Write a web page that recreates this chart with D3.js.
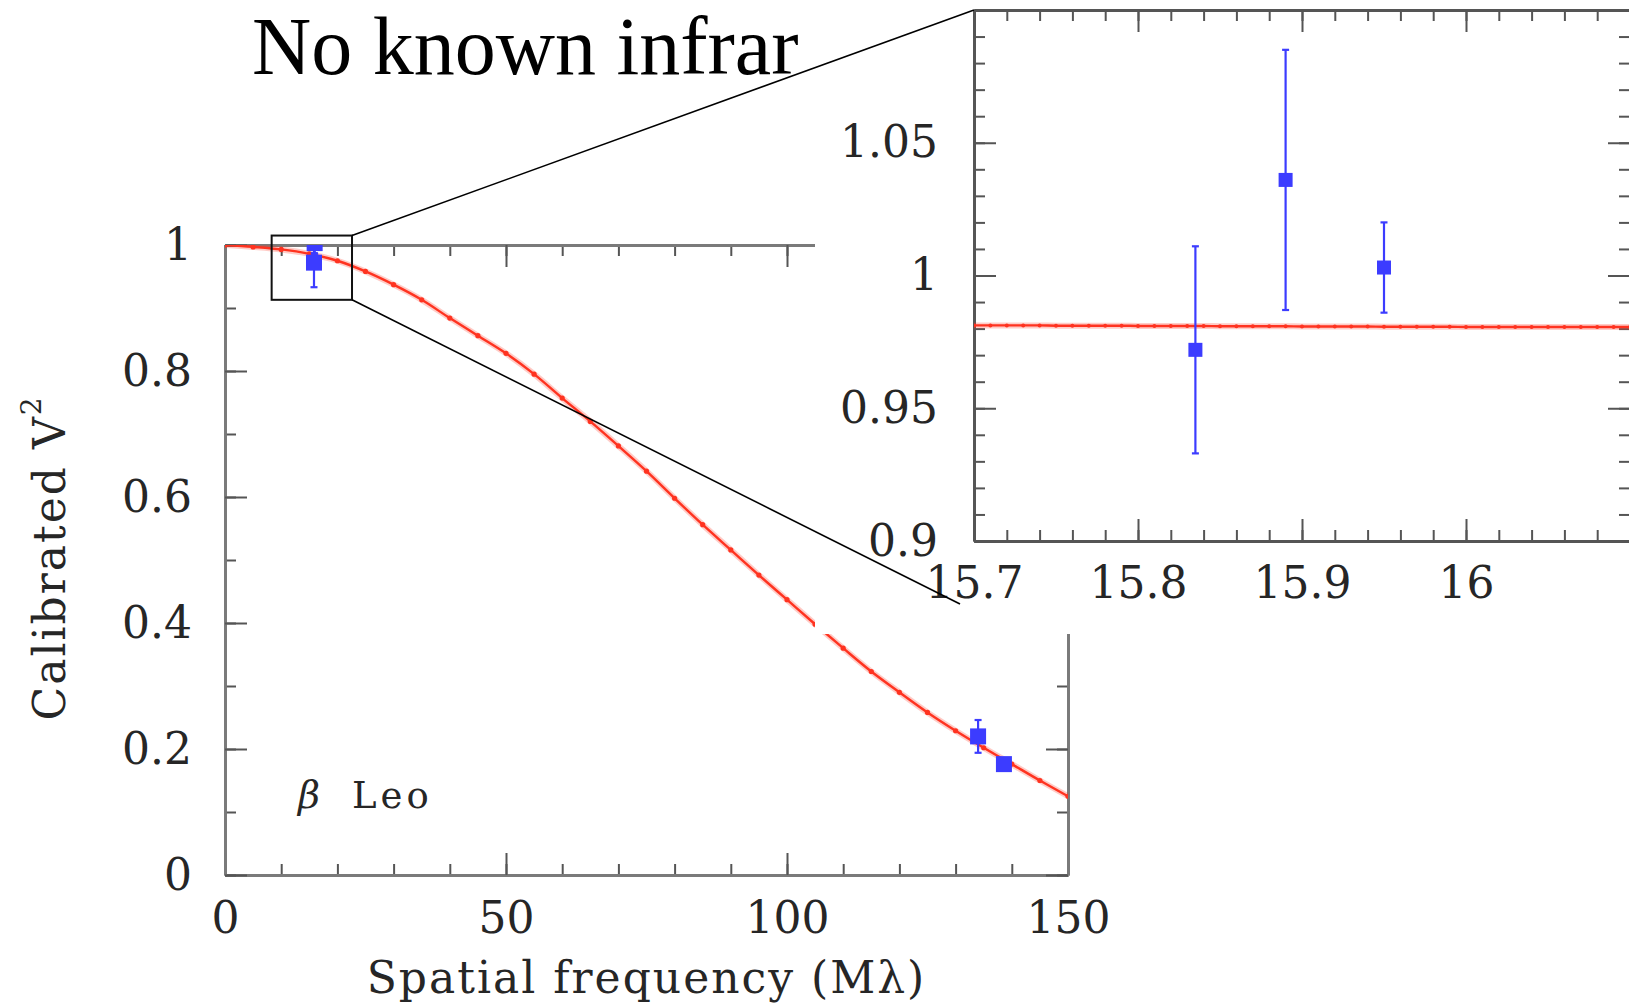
<!DOCTYPE html>
<html>
<head>
<meta charset="utf-8">
<script src="https://cdn.jsdelivr.net/npm/d3@7"></script>
<style>
  body { margin: 0; background: #fff; }
  svg { display: block; }
  .tick text { font-family: "DejaVu Serif", serif; font-size: 44px; fill: #262626; }
</style>
</head>
<body>
<div id="chart"></div>
<script>
// uniform disk model, every 5 Mlambda
var modelFreq = [0, 5, 10, 15, 20, 25, 30, 35, 40, 45, 50, 55, 60, 65, 70, 75,
    80, 85, 90, 95, 100, 105, 110, 115, 120, 125, 130, 135, 140, 145, 150];
var modelV2 = [1.000, 0.997, 0.993, 0.986, 0.975, 0.958, 0.937, 0.913, 0.884, 0.856,
    0.828, 0.795, 0.757, 0.720, 0.681, 0.641, 0.598, 0.556, 0.516, 0.476,
    0.437, 0.398, 0.360, 0.323, 0.290, 0.258, 0.229, 0.202, 0.176, 0.150, 0.125];

// measured points (the first three are the ones blown up in the inset)
var obsFreq = [15.835, 15.890, 15.950, 134.0, 138.6];
var obsV2 = [0.972, 1.036, 1.003, 0.220, 0.176];
var obsErr = [0.039, 0.049, 0.017, 0.026, 0.008];

// model across the zoomed window
var insetFreq = [15.70, 15.71, 15.72, 15.73, 15.74, 15.75, 15.76, 15.77, 15.78, 15.79,
    15.80, 15.81, 15.82, 15.83, 15.84, 15.85, 15.86, 15.87, 15.88, 15.89,
    15.90, 15.91, 15.92, 15.93, 15.94, 15.95, 15.96, 15.97, 15.98, 15.99,
    16.00, 16.01, 16.02, 16.03, 16.04, 16.05, 16.06, 16.07, 16.08, 16.09, 16.10];
var insetV2 = [0.9812, 0.9812, 0.9812, 0.9812, 0.9812, 0.9811, 0.9811, 0.9811, 0.9811, 0.9811,
    0.9810, 0.9810, 0.9810, 0.9810, 0.9810, 0.9809, 0.9809, 0.9809, 0.9809, 0.9809,
    0.9808, 0.9808, 0.9808, 0.9808, 0.9808, 0.9807, 0.9807, 0.9807, 0.9807, 0.9807,
    0.9806, 0.9806, 0.9806, 0.9806, 0.9806, 0.9806, 0.9806, 0.9806, 0.9806, 0.9806, 0.9806];

// tick labels
var xTicksMain = [0, 50, 100, 150];
var yTicksMain = [0, 0.2, 0.4, 0.6, 0.8, 1];
var xTicksInset = [15.7, 15.8, 15.9, 16];
var yTicksInset = [0.9, 0.95, 1, 1.05];

// the little box marking the zoomed region, in data units
var zoomBoxX = [8.3, 22.6];
var zoomBoxY = [0.913, 1.015];

var headline = "No known infrar";
var starName = "Leo";

var width = 1629, height = 1006;
var blue = "#3c3cff", red = "#ff3320";

var svg = d3.select("#chart").append("svg")
    .attr("width", width)
    .attr("height", height);

var defs = svg.append("defs");

// main panel
var x = d3.scaleLinear().domain([0, 150]).range([225, 1068]);
var y = d3.scaleLinear().domain([0, 1]).range([875, 245]);

// inset panel
var xi = d3.scaleLinear().domain([15.7, 16.1]).range([974, 1630]);
var yi = d3.scaleLinear().domain([0.9, 1.1]).range([541, 10]);

defs.append("clipPath").attr("id", "mainClip").append("rect")
    .attr("x", x(0)).attr("y", y(1))
    .attr("width", x(150) - x(0)).attr("height", y(0) - y(1));
defs.append("clipPath").attr("id", "insetClip").append("rect")
    .attr("x", xi(15.7)).attr("y", yi(1.1))
    .attr("width", xi(16.1) - xi(15.7)).attr("height", yi(0.9) - yi(1.1));

function addAxis(gen, scale, ticks, size, labels, tx, ty, pad, col) {
    var a = gen(scale)
        .tickValues(ticks)
        .tickSize(size)
        .tickSizeOuter(0)
        .tickPadding(pad || 0)
        .tickFormat(labels ? d3.format("~g") : "");
    var g = svg.append("g")
        .attr("transform", "translate(" + tx + "," + ty + ")")
        .call(a);
    g.select(".domain").attr("stroke", col).attr("stroke-width", 2.8);
    g.selectAll(".tick line").attr("stroke", "#555").attr("stroke-width", 2);
    return g;
}

// major + minor ticks on all four sides, pgplot style (ticks point inward)
function frame(xs, ys, xMajor, xMinor, yMajor, yMinor, xPad, yPad, col) {
    var x0 = xs.range()[0], x1 = xs.range()[1];
    var y0 = ys.range()[0], y1 = ys.range()[1];
    addAxis(d3.axisBottom, xs, xMinor, -11, false, 0, y0, 0, col);
    addAxis(d3.axisBottom, xs, xMajor, -22, true, 0, y0, xPad, col);
    addAxis(d3.axisTop, xs, xMinor, -11, false, 0, y1, 0, col);
    addAxis(d3.axisTop, xs, xMajor, -22, false, 0, y1, 0, col);
    addAxis(d3.axisLeft, ys, yMinor, -11, false, x0, 0, 0, col);
    addAxis(d3.axisLeft, ys, yMajor, -22, true, x0, 0, yPad, col);
    addAxis(d3.axisRight, ys, yMinor, -11, false, x1, 0, 0, col);
    addAxis(d3.axisRight, ys, yMajor, -22, false, x1, 0, 0, col);
}

function drawPoints(g, xs, ys, idx, size) {
    var pts = g.selectAll(null)
        .data(idx)
        .enter().append("g");
    pts.append("line")
        .attr("x1", function (i) { return xs(obsFreq[i]); })
        .attr("x2", function (i) { return xs(obsFreq[i]); })
        .attr("y1", function (i) { return ys(obsV2[i] - obsErr[i]); })
        .attr("y2", function (i) { return ys(obsV2[i] + obsErr[i]); })
        .attr("stroke", blue).attr("stroke-width", 2.2);
    [-1, 1].forEach(function (s) {
        pts.append("line")
            .attr("x1", function (i) { return xs(obsFreq[i]) - 3.5; })
            .attr("x2", function (i) { return xs(obsFreq[i]) + 3.5; })
            .attr("y1", function (i) { return ys(obsV2[i] + s * obsErr[i]); })
            .attr("y2", function (i) { return ys(obsV2[i] + s * obsErr[i]); })
            .attr("stroke", blue).attr("stroke-width", 2.2);
    });
    pts.append("rect")
        .attr("x", function (i) { return xs(obsFreq[i]) - size / 2; })
        .attr("y", function (i) { return ys(obsV2[i]) - size / 2; })
        .attr("width", size).attr("height", size)
        .attr("fill", blue);
}

function drawModel(g, xs, ys, fx, fy, r) {
    var line = d3.line()
        .x(function (d, i) { return xs(fx[i]); })
        .y(function (d, i) { return ys(fy[i]); })
        .curve(d3.curveMonotoneX);
    g.append("path").attr("d", line(fx))
        .attr("fill", "none").attr("stroke", red)
        .attr("stroke-opacity", 0.25).attr("stroke-width", 6);
    g.append("path").attr("d", line(fx))
        .attr("fill", "none").attr("stroke", red).attr("stroke-width", 2.4);
    g.selectAll(null).data(fx).enter().append("circle")
        .attr("cx", function (d, i) { return xs(fx[i]); })
        .attr("cy", function (d, i) { return ys(fy[i]); })
        .attr("r", r)
        .attr("fill", red);
}

// ---- main plot ----
frame(x, y, xTicksMain, d3.range(0, 151, 10), yTicksMain,
    d3.range(0, 11).map(function (i) { return i / 10; }), 27, 33, "#7a7a7a");

var mainG = svg.append("g").attr("clip-path", "url(#mainClip)");
drawModel(mainG, x, y, modelFreq, modelV2, 2.6);
drawPoints(mainG, x, y, [0, 1, 2, 3, 4], 16);

svg.append("rect")
    .attr("x", x(zoomBoxX[0])).attr("y", y(zoomBoxY[1]))
    .attr("width", x(zoomBoxX[1]) - x(zoomBoxX[0]))
    .attr("height", y(zoomBoxY[0]) - y(zoomBoxY[1]))
    .attr("fill", "none").attr("stroke", "#111").attr("stroke-width", 2);

var serif = "'DejaVu Serif', serif";

svg.append("text")
    .attr("x", (x(0) + x(150)) / 2).attr("y", 993)
    .attr("text-anchor", "middle")
    .style("font-family", serif).style("font-size", "44px")
    .style("letter-spacing", "2px").attr("fill", "#262626")
    .text("Spatial frequency (M\u03bb)");

var yTitle = svg.append("text")
    .attr("transform", "translate(65," + (y(0.5) - 2) + ") rotate(-90)")
    .attr("text-anchor", "middle")
    .style("font-family", serif).style("font-size", "44px")
    .style("letter-spacing", "2px").attr("fill", "#262626");
yTitle.append("tspan").text("Calibrated V");
yTitle.append("tspan").attr("dy", -24).style("font-size", "28px").text("2");

svg.append("text")
    .attr("x", 298).attr("y", 808)
    .style("font-family", serif).style("font-size", "38px")
    .style("font-style", "italic").attr("fill", "#262626")
    .text("\u03b2");
svg.append("text")
    .attr("x", 352).attr("y", 808)
    .style("font-family", serif).style("font-size", "37px")
    .style("letter-spacing", "4px").attr("fill", "#262626")
    .text(starName);

// ---- inset, pasted over the upper right corner ----
svg.append("rect")
    .attr("x", 815).attr("y", 0)
    .attr("width", width - 815).attr("height", 634)
    .attr("fill", "#fff");

frame(xi, yi, xTicksInset, d3.range(0, 21).map(function (i) { return 15.7 + i * 0.02; }),
    yTicksInset, d3.range(0, 21).map(function (i) { return 0.9 + i * 0.01; }), 26, 36, "#555");

var insetG = svg.append("g").attr("clip-path", "url(#insetClip)");
drawModel(insetG, xi, yi, insetFreq, insetV2, 2);
drawPoints(insetG, xi, yi, [0, 1, 2], 14);

// leader lines from the zoom box to the inset
svg.append("line")
    .attr("x1", x(zoomBoxX[1])).attr("y1", y(zoomBoxY[1]))
    .attr("x2", xi(15.7)).attr("y2", yi(1.1))
    .attr("stroke", "#000").attr("stroke-width", 1.6);
svg.append("line")
    .attr("x1", x(zoomBoxX[1])).attr("y1", y(zoomBoxY[0]))
    .attr("x2", 960).attr("y2", 604)
    .attr("stroke", "#000").attr("stroke-width", 1.6);

svg.append("text")
    .attr("x", 252).attr("y", 74)
    .style("font-family", "'Liberation Serif', 'Times New Roman', serif")
    .style("font-size", "82px").attr("fill", "#000")
    .text(headline);
</script>
</body>
</html>
